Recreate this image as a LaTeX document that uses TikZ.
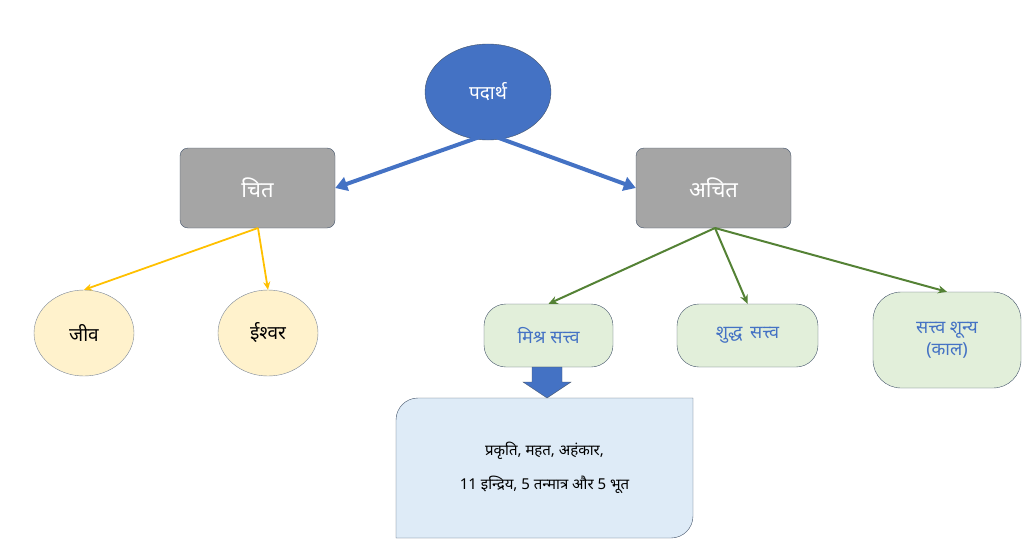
\documentclass[tikz,border=0pt]{standalone}
\usepackage{fontspec}
\setmainfont[Script=Devanagari]{Noto Sans}
\usetikzlibrary{shapes.geometric,arrows.meta,shapes.arrows}
\definecolor{cblue}{HTML}{4472C4}
\definecolor{cgray}{HTML}{A5A5A5}
\definecolor{cyel}{HTML}{FFF2CC}
\definecolor{cgold}{HTML}{FFC000}
\definecolor{cgreenf}{HTML}{E2EFDA}
\definecolor{cgreen}{HTML}{548235}
\definecolor{clblue}{HTML}{DEEBF7}
\definecolor{cedge}{HTML}{44546A}
\tikzset{
 gbox/.style={draw=cedge,fill=cgray,rounded corners=8pt,text=white,font=\bfseries\fontsize{22}{26}\selectfont,minimum width=155pt,minimum height=80pt},
 yell/.style={ellipse,draw=cedge!70,fill=cyel,font=\bfseries\fontsize{19}{22}\selectfont,minimum width=100pt,minimum height=86pt,inner sep=0pt},
 grn/.style={draw=cedge,fill=cgreenf,rounded corners=22pt,text=cblue,font=\bfseries\fontsize{18}{22}\selectfont,align=center},
 bar/.style={-{Triangle[length=12pt,width=14pt]},line width=4pt,cblue},
 yar/.style={-{Stealth[length=8pt,width=7pt]},line width=1.8pt,cgold},
 gar/.style={-{Stealth[length=9pt,width=8pt]},line width=2pt,cgreen}
}
\begin{document}
\begin{tikzpicture}[x=1pt,y=-1pt]
\useasboundingbox (0,0) rectangle (1024,551);
\node[ellipse,draw=cedge,fill=cblue,text=white,font=\bfseries\fontsize{19}{22}\selectfont,minimum width=126pt,minimum height=96pt] (pad) at (488,92) {पदार्थ};
\node[gbox] (chit) at (257.5,188) {चित};
\node[gbox] (achit) at (713.5,188) {अचित};
\coordinate (pb) at (488,134);
\draw[bar] (pb) -- (chit.east);
\draw[bar] (pb) -- (achit.west);
\node[yell] (jiva) at (84,333) {जीव};
\node[yell] (ish) at (268,333) {ईश्वर};
\coordinate (cb) at (258,228);
\draw[yar] (cb) -- (jiva.north);
\draw[yar] (cb) -- (ish.north);
\node[grn,minimum width=129pt,minimum height=63pt] (mish) at (548.5,335.5) {मिश्र सत्त्व};
\node[grn,minimum width=141pt,minimum height=63pt] (shud) at (747.5,335.5) {शुद्ध\, सत्त्व};
\node[grn,minimum width=148pt,minimum height=96pt,rounded corners=28pt] (shun) at (947,340) {सत्त्व शून्य\\(काल)};
\coordinate (ab) at (715,228);
\draw[gar] (ab) -- (mish.north);
\draw[gar] (ab) -- (shud.north);
\draw[gar] (ab) -- (shun.north);
\draw[draw=cedge,fill=clblue] (396,538) -- (396,422) [rounded corners=22pt] -- (396,398) [sharp corners] -- (693,398) -- (693,514) [rounded corners=22pt] -- (693,538) [sharp corners] -- cycle;
\node[font=\fontsize{15}{18}\selectfont,align=center] (box) at (544.5,468) {प्रकृति, महत, अहंकार,\\[16pt]11 इन्द्रिय, 5 तन्मात्र और 5 भूत};
\draw[draw=cedge,fill=cblue] (532,367) -- (562,367) -- (562,382) -- (571,382) -- (547,398) -- (523,382) -- (532,382) -- cycle;
\end{tikzpicture}
\end{document}
